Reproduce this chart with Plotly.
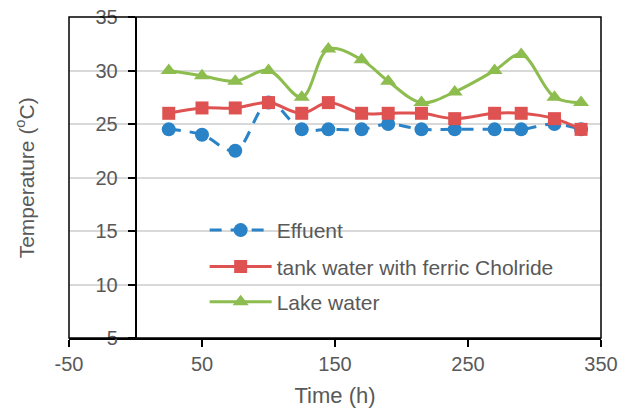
import plotly.graph_objects as go

# Sampling times (h)
time_h = [25, 50, 75, 100, 125, 145, 170, 190, 215, 240, 270, 290, 315, 335]

# Temperatures (°C)
effluent = [24.5, 24, 22.5, 27, 24.5, 24.5, 24.5, 25, 24.5, 24.5, 24.5, 24.5, 25, 24.5]
tank_fecl3 = [26, 26.5, 26.5, 27, 26, 27, 26, 26, 26, 25.5, 26, 26, 25.5, 24.5]
lake = [30, 29.5, 29, 30, 27.5, 32, 31, 29, 27, 28, 30, 31.5, 27.5, 27]

series_names = ["Effuent", "tank water with ferric Cholride", "Lake water"]
x_ticks = [-50, 50, 150, 250, 350]
y_ticks = [5, 10, 15, 20, 25, 30, 35]

BLUE = "#2A83C6"
RED = "#DF5252"
GREEN = "#8DBC4F"
TEXT = "#595959"
FONT = "Liberation Sans, Arial, sans-serif"

fig = go.Figure()

fig.add_trace(go.Scatter(
    x=time_h, y=effluent, name=series_names[0], mode="lines+markers",
    line=dict(color=BLUE, width=3, dash="12px,9px", shape="spline", smoothing=1.0),
    marker=dict(symbol="circle", size=14, color=BLUE),
    legend="legend",
))
fig.add_trace(go.Scatter(
    x=time_h, y=tank_fecl3, name=series_names[1], mode="lines+markers",
    line=dict(color=RED, width=3, shape="spline", smoothing=1.0),
    marker=dict(symbol="square", size=13, color=RED),
    legend="legend2",
))
fig.add_trace(go.Scatter(
    x=time_h, y=lake, name=series_names[2], mode="lines+markers",
    line=dict(color=GREEN, width=3, shape="spline", smoothing=1.0),
    marker=dict(symbol="triangle-up", size=14, color=GREEN),
    legend="legend3",
))

# One legend box per series so the row spacing can be set freely
legend_style = dict(
    x=0.255, xanchor="left", yanchor="middle",
    bgcolor="rgba(0,0,0,0)", font=dict(size=21, color=TEXT),
    itemwidth=62,
)

fig.update_layout(
    width=625, height=408,
    margin=dict(l=69, r=24, t=17, b=70, autoexpand=False),
    paper_bgcolor="white", plot_bgcolor="white",
    font=dict(family=FONT, size=20, color=TEXT),
    showlegend=True,
    legend=dict(y=0.335, **legend_style),
    legend2=dict(y=0.222, **legend_style),
    legend3=dict(y=0.112, **legend_style),
    xaxis=dict(
        range=[-50, 350], tickvals=x_ticks, ticktext=[str(v) for v in x_ticks],
        showgrid=False, zeroline=False, automargin=False,
        showline=True, linecolor="black", linewidth=1.5,
        ticks="outside", ticklen=7, tickwidth=1.5, tickcolor="black",
        title=dict(text="Time (h)", font=dict(size=22, color=TEXT), standoff=14),
    ),
    yaxis=dict(
        range=[5, 35], tickvals=y_ticks, ticktext=[str(v) for v in y_ticks],
        showgrid=True, gridcolor="#D9D9D9", gridwidth=1.5, zeroline=False,
        showline=True, linecolor="black", linewidth=1.5, automargin=False,
        ticks="outside", ticklen=7, tickwidth=1.5, tickcolor="black",
        anchor="free", position=0.125, ticklabelstandoff=6,
    ),
)

# Outer frame of the plotting area
fig.add_shape(type="rect", xref="paper", yref="paper", x0=0, y0=0, x1=1, y1=1,
              line=dict(color="black", width=1.5), layer="above")

fig.add_annotation(
    text="Temperature (<sup>o</sup>C)", xref="paper", yref="paper",
    x=-0.083, y=0.5, xanchor="center", yanchor="middle",
    textangle=-90, showarrow=False,
    font=dict(size=21, color=TEXT),
)

fig.write_html("out.html")
